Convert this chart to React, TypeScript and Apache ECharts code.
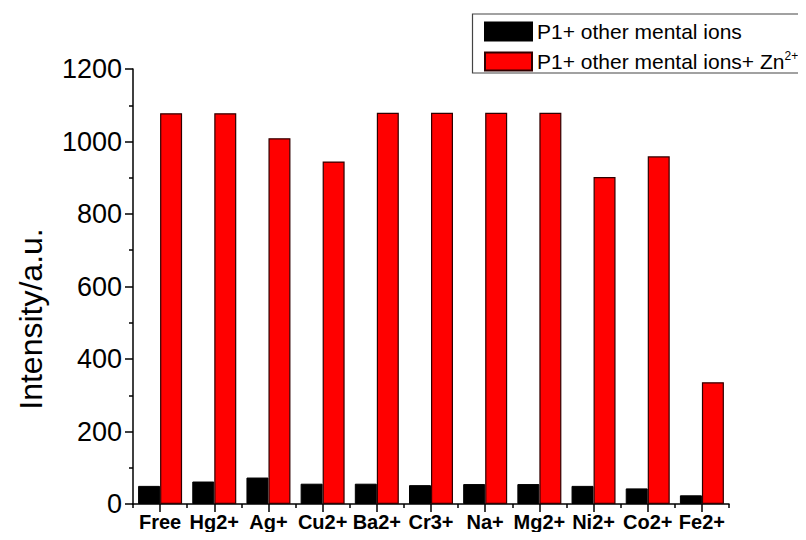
import React, { useEffect, useRef } from "react";
import * as echarts from "echarts";

const categories = ["Free", "Hg2+", "Ag+", "Cu2+", "Ba2+", "Cr3+", "Na+", "Mg2+", "Ni2+", "Co2+", "Fe2+"];
const withoutZn = [50, 62, 73, 56, 56, 52, 55, 55, 50, 43, 24];
const withZn = [1078, 1078, 1009, 945, 1079, 1079, 1079, 1079, 902, 959, 336];
const seriesNames = ["P1+ other mental ions", "P1+ other mental ions+ Zn2+"];
const yTicks = [0, 200, 400, 600, 800, 1000, 1200];

const FONT = "'Liberation Sans', Arial, sans-serif";

export default function App() {
  const ref = useRef<HTMLDivElement>(null);
  useEffect(() => {
    if (!ref.current) return;
    const chart = echarts.init(ref.current, null, { renderer: "svg" });
    chart.setOption({
      animation: false,
      backgroundColor: "#ffffff",
      textStyle: { fontFamily: FONT, color: "#000" },
      grid: { left: 133, right: 77, top: 69, bottom: 36, containLabel: false },
      legend: {
        orient: "vertical",
        left: 479,
        top: 16,
        itemWidth: 47,
        itemHeight: 18,
        itemGap: 7.5,
        icon: "rect",
        data: seriesNames,
        formatter: (name: string) =>
          name === seriesNames[1] ? "{n|P1+ other mental ions+ Zn}{s|2+}" : "{n|" + name + "}",
        textStyle: {
          fontFamily: FONT,
          color: "#000",
          fontSize: 21,
          rich: {
            n: { fontSize: 21, fontFamily: FONT, color: "#000", lineHeight: 24 },
            s: { fontSize: 12, fontFamily: FONT, color: "#000", verticalAlign: "top", lineHeight: 12 },
          },
        },
      },
      graphic: [
        {
          type: "rect",
          shape: { x: 472.5, y: 14, width: 360, height: 59 },
          style: { fill: "none", stroke: "#444", lineWidth: 1.2 },
          silent: true,
        },
        {
          type: "text",
          x: 31,
          y: 319,
          rotation: Math.PI / 2,
          style: {
            text: "Intensity/a.u.",
            fontSize: 32,
            fontFamily: FONT,
            fill: "#000",
            align: "center",
            verticalAlign: "middle",
          },
        },
      ],
      xAxis: [
        {
          type: "category",
          data: categories,
          position: "bottom",
          axisLine: { show: true, lineStyle: { color: "#000", width: 1.5 } },
          axisTick: { show: true, alignWithLabel: true, length: 8, lineStyle: { color: "#000", width: 1.5 } },
          axisLabel: { fontSize: 20, fontWeight: "bold", color: "#000", fontFamily: FONT, margin: 8, interval: 0 },
          splitLine: { show: false },
        },
        {
          type: "category",
          data: categories,
          position: "bottom",
          axisLine: { show: false },
          axisTick: { show: true, alignWithLabel: false, length: 4, lineStyle: { color: "#000", width: 1.5 } },
          axisLabel: { show: false },
          splitLine: { show: false },
        },
      ],
      yAxis: {
        type: "value",
        min: yTicks[0],
        max: yTicks[yTicks.length - 1],
        interval: 200,
        axisLine: { show: true, lineStyle: { color: "#000", width: 1.5 } },
        axisTick: { show: true, length: 8, lineStyle: { color: "#000", width: 1.5 } },
        minorTick: { show: true, splitNumber: 2, length: 4, lineStyle: { color: "#000", width: 1.5 } },
        axisLabel: {
          fontSize: 27,
          color: "#000",
          fontFamily: FONT,
          margin: 11,
          formatter: (v: number) => String(v),
        },
        splitLine: { show: false },
      },
      series: [
        {
          name: seriesNames[0],
          type: "bar",
          data: withoutZn,
          barWidth: 22,
          barGap: "0%",
          itemStyle: { color: "#000000", borderColor: "#000000", borderWidth: 1 },
        },
        {
          name: seriesNames[1],
          type: "bar",
          data: withZn,
          barWidth: 22,
          barGap: "0%",
          itemStyle: { color: "#ff0000", borderColor: "#300000", borderWidth: 1.2 },
        },
      ],
    } as any);
    return () => chart.dispose();
  }, []);
  return <div ref={ref} style={{ width: 806, height: 540, margin: -8 }} />;
}
